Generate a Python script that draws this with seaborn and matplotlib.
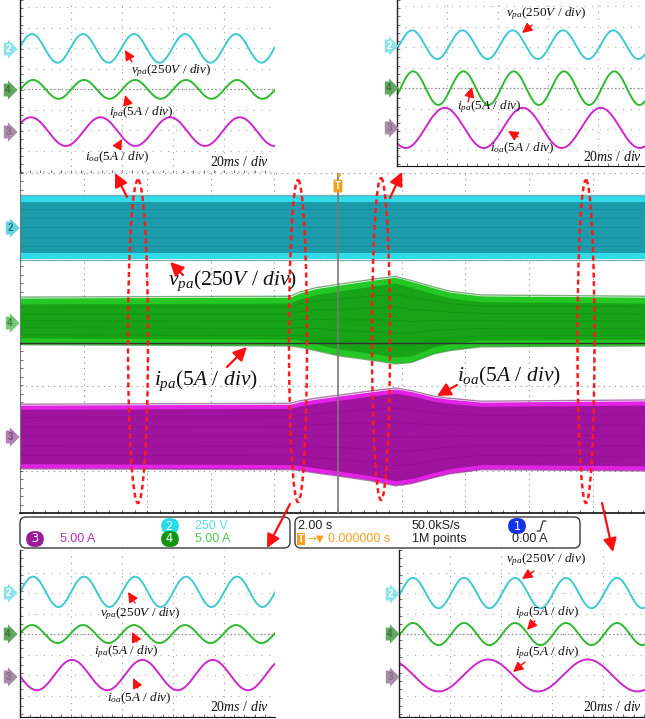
''' Oscilloscope composite: main 2 s/div capture with four 20 ms/div zoomed captures '''

import numpy as np
import matplotlib
matplotlib.use('Agg')
import matplotlib.pyplot as plt
from matplotlib.patches import Ellipse, FancyBboxPatch
import seaborn as sns

W, H = 645, 719

# ---- zoomed captures: channel order is v_pa (ch2), i_pa (ch4), i_oa (ch3)
# offset / amplitude in vertical divisions, period and first peak in ms
TL_OFFSET = [1.18, 2.18, 3.21]
TL_AMP = [0.35, 0.23, 0.35]
TL_PERIOD = [20.0, 20.0, 27.3]
TL_PEAK = [4.7, 5.1, 4.3]

TR_OFFSET = [1.09, 2.15, 3.12]
TR_AMP = [0.35, 0.41, 0.49]
TR_PERIOD = [20.0, 20.0, 31.0]
TR_PEAK = [6.0, 6.4, 19.0]

BL_OFFSET = [1.02, 2.05, 3.05]
BL_AMP = [0.37, 0.22, 0.37]
BL_PERIOD = [20.0, 20.0, 27.6]
BL_PEAK = [5.1, 4.7, 20.4]

BR_OFFSET = [1.05, 2.05, 3.06]
BR_AMP = [0.37, 0.27, 0.39]
BR_PERIOD = [20.0, 20.0, 39.0]
BR_PEAK = [5.5, 5.5, 35.0]

# ---- main capture envelopes (time in s, level in div)
ENV_T = [-10.0, -1.5, -1.2, -0.7, 0.0, 1.0, 1.8, 2.3, 3.0, 3.5, 4.5, 9.65]
CYAN_TOP = [3.46] * 12
CYAN_BOT = [1.98] * 12
GREEN_TOP = [1.06, 1.08, 1.18, 1.28, 1.36, 1.47, 1.55, 1.45, 1.30, 1.20, 1.11, 1.08]
GREEN_BOT = [-0.02, -0.05, -0.08, -0.16, -0.28, -0.38, -0.47, -0.44, -0.24, -0.16, -0.07, -0.05]
MAG_TOP = [-1.46, -1.44, -1.38, -1.32, -1.25, -1.15, -1.08, -1.14, -1.27, -1.32, -1.39, -1.36]
MAG_BOT = [-2.94, -2.96, -2.98, -3.04, -3.11, -3.22, -3.34, -3.29, -3.15, -3.06, -2.96, -2.99]

TRACE_COLORS = ['#3ec9d3', '#2fb92f', '#cb27cb']

sns.set_style('white')
plt.rcParams['font.family'] = ['Liberation Sans', 'DejaVu Sans']
plt.rcParams['mathtext.fontset'] = 'custom'
plt.rcParams['mathtext.rm'] = 'Liberation Serif'
plt.rcParams['mathtext.it'] = 'Liberation Serif:italic'

fig = plt.figure(figsize=(W / 100, H / 100), dpi=100)
fig.patch.set_facecolor('white')


def px_axes(x0, y0, x1, y1):
    return fig.add_axes([x0 / W, 1 - y1 / H, (x1 - x0) / W, (y1 - y0) / H])


def draw_inset(box, offsets, amps, periods, peaks, div_x=51.0, div_y=41.0, bottom=True):
    x0, y0, x1, y1 = box
    ax = px_axes(x0, y0, x1, y1)
    width_ms = (x1 - x0) / div_x * 20
    height = (y1 - y0) / div_y
    # graticule
    for xv in np.arange(20, width_ms, 20):
        ax.axvline(xv, color='#9a9a9a', ls=(0, (1, 5)), lw=0.8)
    for yv in np.arange(offsets[1] - 4, height, 0.5):
        if yv > 0.05:
            ax.axhline(yv, color='#a8a8a8', ls=(0, (1, 6)), lw=0.8)
    ax.axhline(offsets[1], color='#808080', ls=(0, (1, 2)), lw=0.9)
    t = np.linspace(0, width_ms, 900)
    for ch in range(3):
        y = offsets[ch] - amps[ch] * np.cos(2 * np.pi * (t - peaks[ch]) / periods[ch])
        sns.lineplot(x=t, y=y, ax=ax, color=TRACE_COLORS[ch], lw=1.4,
                     estimator=None, sort=False)
    ax.set_xlim(0, width_ms)
    ax.set_ylim(height, 0)
    ax.set_xticks(np.arange(0, width_ms, 4))
    ax.set_yticks(np.arange(0, height, 0.2))
    ax.tick_params(left=True, bottom=bottom, direction='in', length=2, width=0.6,
                   color='#555555', labelleft=False, labelbottom=False)
    for s in ['top', 'right']:
        ax.spines[s].set_visible(False)
    ax.spines['left'].set_color('#222222')
    ax.spines['left'].set_linewidth(1.0)
    ax.spines['bottom'].set_visible(bottom)
    ax.spines['bottom'].set_color('#111111')
    ax.set_xlabel('')
    ax.set_ylabel('')
    return ax


draw_inset((20, 0, 275, 173), TL_OFFSET, TL_AMP, TL_PERIOD, TL_PEAK)
draw_inset((397, 0, 645, 166), TR_OFFSET, TR_AMP, TR_PERIOD, TR_PEAK, div_x=50.3)
draw_inset((20, 550, 275, 717), BL_OFFSET, BL_AMP, BL_PERIOD, BL_PEAK)
draw_inset((399, 550, 645, 717), BR_OFFSET, BR_AMP, BR_PERIOD, BR_PEAK)

# ---- main capture
ax = px_axes(20, 173, 645, 513)
for xv in np.arange(-8, 10, 2):
    if xv != 0:
        ax.axvline(xv, color='#8a8a8a', ls=(0, (1, 4)), lw=0.8, zorder=0)
for yv in range(-3, 5):
    if yv != 0:
        ax.axhline(yv, color='#8a8a8a', ls=(0, (1, 4)), lw=0.8, zorder=0)

bands = [(CYAN_TOP, CYAN_BOT, '#31dbe7', '#1c9cab', '#156f78', 0.14),
         (GREEN_TOP, GREEN_BOT, '#24c824', '#16a416', '#0e6e0e', 0.14),
         (MAG_TOP, MAG_BOT, '#e323e3', '#a0139f', '#6a0c6a', 0.10)]
t_env = np.array(ENV_T)
for top, bot, outer, inner, edge, rim in bands:
    top = np.array(top)
    bot = np.array(bot)
    ax.fill_between(t_env, bot, top, color=outer, lw=0, zorder=2)
    ax.fill_between(t_env, bot + rim, top - rim, color=inner, lw=0, zorder=2)
    for yy in np.linspace(0.2, 0.8, 5):
        ax.plot(t_env, bot + (top - bot) * yy, color='black', alpha=0.10, lw=0.6, zorder=3)
    ax.plot(t_env, top + 0.02, color=edge, alpha=0.55, lw=1.0, zorder=3)
    ax.plot(t_env, bot - 0.02, color=edge, alpha=0.55, lw=1.0, zorder=3)

ax.axvline(0, color='#7a7a7a', lw=1.2, zorder=4)
ax.axhline(0, color='#333333', lw=1.0, zorder=4)
ax.set_xlim(-10, 9.65)
ax.set_ylim(-4, 4)
ax.set_xticks(np.arange(-10, 9.65, 0.4))
ax.set_yticks(np.arange(-4, 4.01, 0.2))
ax.tick_params(left=True, bottom=True, direction='in', length=2, width=0.6,
               color='#555555', labelleft=False, labelbottom=False)
for s in ['top', 'right']:
    ax.spines[s].set_visible(False)
ax.spines['left'].set_color('#777777')
ax.spines['bottom'].set_color('#111111')
ax.spines['bottom'].set_linewidth(1.2)

# ---- overlay in pixel coordinates
ov = fig.add_axes([0, 0, 1, 1])
ov.set_xlim(0, W)
ov.set_ylim(H, 0)
ov.axis('off')
ov.patch.set_alpha(0)
ov.set_zorder(10)


def marker(x, y, txt, fc, tc):
    ov.text(x, y, txt, ha='center', va='center', fontsize=7, fontweight='bold', color=tc,
            bbox=dict(boxstyle='rarrow,pad=0.15', fc=fc, ec='none'))


for xm, ys in [(8, [49, 90, 132]), (389, [46, 88, 128]), (8, [593, 634, 677]), (390, [594, 634, 677])]:
    marker(xm, ys[0], '2', '#8fe2ea', 'white')
    marker(xm, ys[1], '4', '#62a862', '#3d6d3d')
    marker(xm, ys[2], '3', '#a88ca8', '#8a6a8a')
marker(10, 228, '2', '#64d5de', '#2c7079')
marker(10, 323, '4', '#74c874', '#3f7a3f')
marker(10, 437, '3', '#b482b4', '#7a4a7a')

# trigger marker
ov.text(338, 176, '\u25bc', ha='center', va='center', fontsize=6, color='#f0a020')
ov.text(338, 186, 'T', ha='center', va='center', fontsize=7, color='white', fontweight='bold',
        bbox=dict(boxstyle='round,pad=0.15', fc='#f0a020', ec='none'))


def lab(x, y, name, sub, unit, size, ha='left'):
    s = '$' + name + '_{' + sub + '}$(' + unit + ' / $div$)'
    ov.text(x, y, s, ha=ha, va='center', fontsize=size, family='Liberation Serif', color='#111111')


def red_arrow(x0, y0, x1, y1, lw=1.0, hw=3):
    ov.annotate('', xy=(x1, y1), xytext=(x0, y0),
                arrowprops=dict(arrowstyle='-|>,head_width=%.2f,head_length=%.2f' % (hw / 10, hw / 5),
                                color='#ff1010', lw=lw, shrinkA=0, shrinkB=0))


def ms_lab(x, y):
    ov.text(x, y, '20$ms$ / $div$', ha='right', va='center', fontsize=10,
            family='Liberation Serif', color='#111111')


SMALL = 9.5
# top-left
lab(131, 71, 'v', 'pa', '250$V$', SMALL)
lab(109, 113, 'i', 'pa', '5$A$', SMALL)
lab(85, 157, 'i', 'oa', '5$A$', SMALL)
ms_lab(269, 162)
red_arrow(132, 62, 125, 50)
red_arrow(128, 105, 125, 95)
red_arrow(117, 148, 122, 139)
# top-right
lab(506, 14, 'v', 'pa', '250$V$', SMALL)
lab(457, 107, 'i', 'pa', '5$A$', SMALL)
lab(490, 148, 'i', 'oa', '5$A$', SMALL)
ms_lab(642, 157)
red_arrow(532, 25, 522, 33)
red_arrow(468, 102, 472, 87)
red_arrow(518, 137, 508, 131)
# bottom-left
lab(100, 614, 'v', 'pa', '250$V$', SMALL)
lab(94, 652, 'i', 'pa', '5$A$', SMALL)
lab(107, 698, 'i', 'oa', '5$A$', SMALL)
ms_lab(269, 707)
red_arrow(135, 603, 128, 592)
red_arrow(137, 642, 132, 632)
red_arrow(138, 688, 133, 678)
# bottom-right
lab(506, 560, 'v', 'pa', '250$V$', SMALL)
lab(515, 613, 'i', 'pa', '5$A$', SMALL)
lab(515, 653, 'i', 'pa', '5$A$', SMALL)
ms_lab(642, 707)
red_arrow(534, 571, 522, 579)
red_arrow(535, 621, 527, 630)
red_arrow(525, 662, 513, 672)

# main labels
BIG = 15.5
lab(168, 281, 'v', 'pa', '250$V$', BIG)
lab(154, 381, 'i', 'pa', '5$A$', BIG)
lab(457, 376, 'i', 'oa', '5$A$', BIG)
red_arrow(183, 275, 170, 262, lw=1.6, hw=4)
red_arrow(227, 367, 247, 347, lw=1.6, hw=4)
red_arrow(457, 385, 437, 396, lw=1.6, hw=4)

# dashed ellipses and pointer arrows
for cx, top, bot, wd in [(138, 180, 503, 20), (298, 180, 502, 18), (381, 178, 500, 18), (586, 180, 503, 17)]:
    ov.add_patch(Ellipse((cx, (top + bot) / 2), wd, bot - top, fill=False, ec='#ff1a1a',
                         lw=1.8, ls=(0, (2, 1.4))))
red_arrow(127, 197, 115, 173, lw=1.6, hw=4)
red_arrow(390, 198, 402, 172, lw=1.6, hw=4)
red_arrow(290, 504, 267, 548, lw=1.6, hw=4)
red_arrow(602, 503, 613, 552, lw=1.6, hw=4)

# status bar
for x0, x1 in [(20, 290), (295, 580)]:
    ov.add_patch(FancyBboxPatch((x0, 517), x1 - x0, 31, boxstyle='round,pad=0,rounding_size=6',
                                fc='white', ec='#3a3a3a', lw=1.0))


def pill(x, y, txt, fc):
    ov.text(x, y, txt, ha='center', va='center', fontsize=8.5, color='white',
            bbox=dict(boxstyle='round,pad=0.12,rounding_size=0.7', fc=fc, ec='none'),
            family='DejaVu Sans')


SB = 9
pill(35, 539, ' 3 ', '#9c1c9c')
ov.text(60, 539, '5.00 A', fontsize=SB, color='#b530b5', va='center')
pill(170, 526, ' 2 ', '#25dce8')
ov.text(195, 526, '250 V', fontsize=SB, color='#55dde8', va='center')
pill(170, 539, ' 4 ', '#129612')
ov.text(195, 539, '5.00 A', fontsize=SB, color='#55c455', va='center')

ov.text(298, 526, '2.00 s', fontsize=SB, color='#222222', va='center')
ov.text(301, 539, 'T', fontsize=7.5, color='white', va='center', ha='center', fontweight='bold',
        bbox=dict(boxstyle='square,pad=0.12', fc='#f5a020', ec='none'))
ov.text(307, 539, '\u2192\u25bc', fontsize=7.5, color='#f5a020', va='center', family='DejaVu Sans')
ov.text(328, 539, '0.000000 s', fontsize=SB, color='#f5a020', va='center')
ov.text(412, 526, '50.0kS/s', fontsize=SB, color='#222222', va='center')
ov.text(412, 539, '1M points', fontsize=SB, color='#222222', va='center')
pill(517, 526, ' 1 ', '#1430e8')
ov.plot([537, 540, 543, 546], [531, 531, 521, 521], color='#333333', lw=0.9)
ov.text(512, 539, '0.00 A', fontsize=SB, color='#222222', va='center')

fig.savefig('out.png', dpi=100)
